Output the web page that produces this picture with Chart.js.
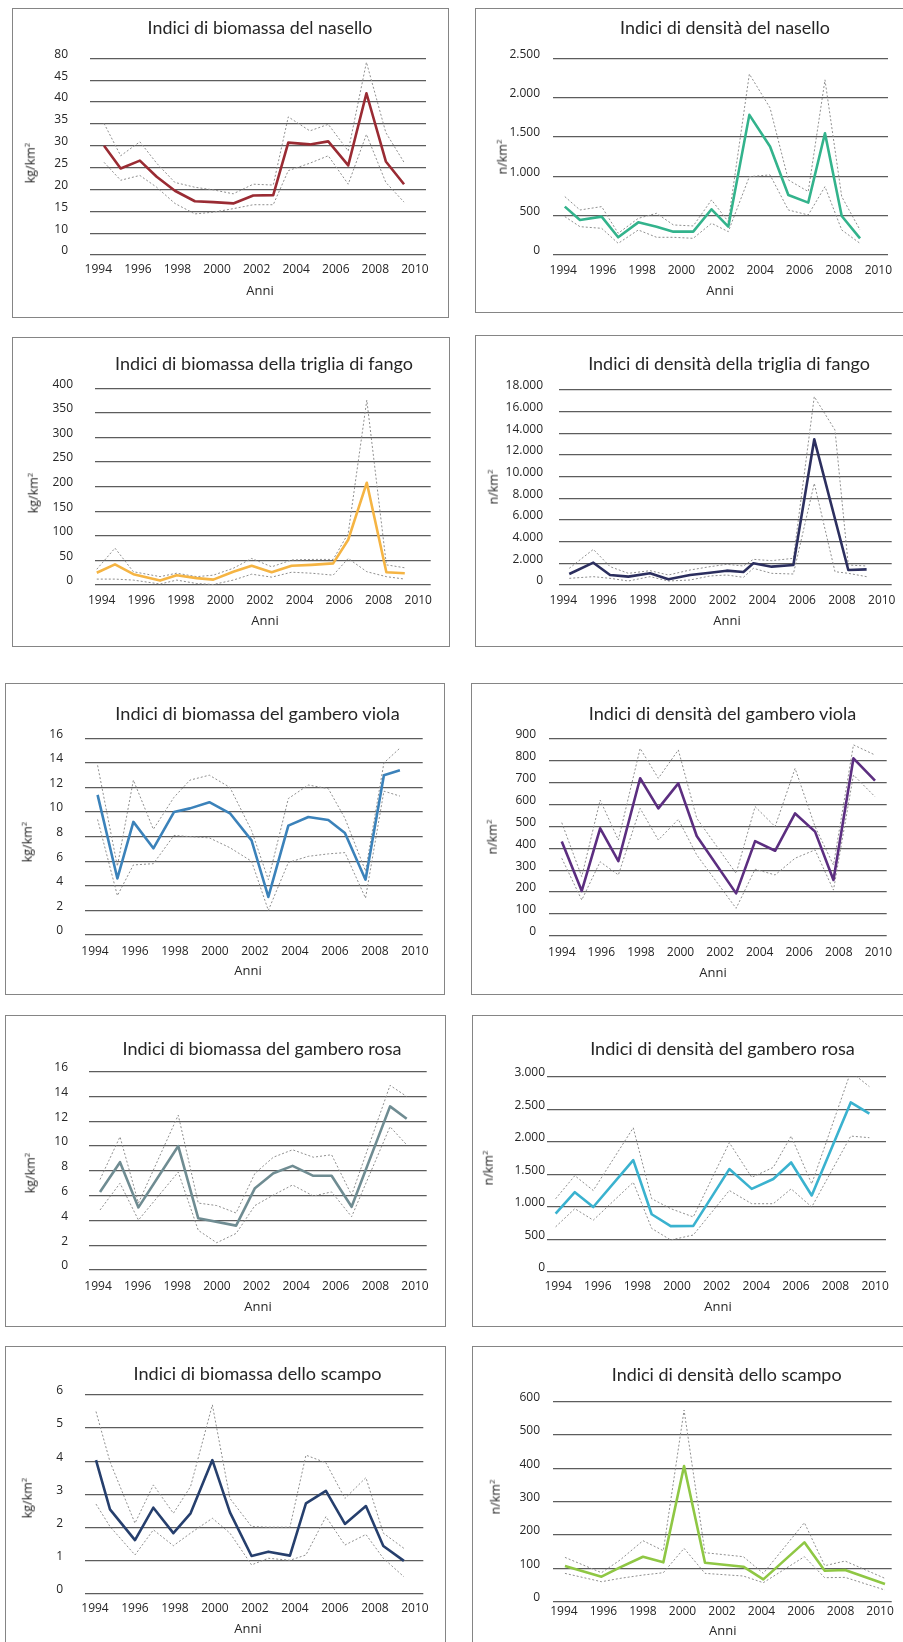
<!DOCTYPE html>
<html>
<head>
<meta charset="utf-8">
<script src="https://cdn.jsdelivr.net/npm/chart.js@4.4.1/dist/chart.umd.min.js"></script>
<style>
  html, body { margin: 0; padding: 0; background: #fff; }
  body { width: 903px; height: 1642px; position: relative; overflow: hidden; font-family: "Open Sans", sans-serif; }
  .panel { position: absolute; }
  .frame { position: absolute; left: 0; top: 0; right: 0; bottom: 0; border: 1px solid #858585; box-sizing: border-box; }
  .panel canvas { position: absolute; left: 0; top: 0; }
  .txt { position: absolute; white-space: nowrap; color: #262626; line-height: 1; }
  .title { transform: translate(-50%, -50%); font-family: Lato, "Open Sans", sans-serif; }
  .xname { transform: translate(-50%, -50%); font-size: 13px; }
  .yname { transform: translate(-50%, -50%) rotate(-90deg); font-size: 12.5px; }
  .yname sup { font-size: 8px; vertical-align: 5px; }
</style>
</head>
<body>
<script>
// Year labels shared by every x axis
const yearTicks = [1994, 1996, 1998, 2000, 2002, 2004, 2006, 2008, 2010];

// Nasello - biomassa (kg/km2)
const naselloBioYears = [1994.29, 1995.13, 1996.10, 1996.95, 1997.87, 1998.88, 1999.81, 2000.82, 2001.83, 2002.84, 2003.60, 2004.69, 2005.62, 2006.63, 2007.55, 2008.53, 2009.45];
const naselloBioMean  = [30.0, 24.8, 26.6, 22.9, 19.7, 17.3, 17.1, 16.8, 18.6, 18.7, 30.7, 30.3, 31.0, 25.5, 42.0, 26.4, 21.2];
const naselloBioUpper = [35.1, 27.7, 30.9, 26.0, 21.6, 20.5, 19.9, 19.0, 21.2, 21.0, 36.6, 33.4, 34.9, 28.8, 49.1, 33.0, 26.2];
const naselloBioLower = [26.2, 22.1, 23.2, 20.5, 16.8, 14.4, 14.8, 15.6, 16.5, 16.5, 24.3, 26.0, 27.7, 21.2, 32.6, 21.6, 17.1];
const naselloBioTicks = [5, 10, 15, 20, 25, 30, 35, 40, 45, 50];
const naselloBioTickLabels = ['0', '10', '15', '20', '25', '30', '35', '40', '45', '80'];

// Nasello - densità (n/km2)
const naselloDenYears = [1994.08, 1994.85, 1995.95, 1996.79, 1997.81, 1998.74, 1999.59, 2000.60, 2001.53, 2002.38, 2003.45, 2004.50, 2005.43, 2006.44, 2007.29, 2008.14, 2009.07];
const naselloDenMean  = [615, 445, 488, 225, 415, 360, 297, 297, 581, 360, 1781, 1378, 763, 666, 1548, 496, 212];
const naselloDenUpper = [742, 572, 615, 276, 466, 530, 382, 369, 700, 424, 2300, 1870, 954, 806, 2226, 742, 318];
const naselloDenLower = [488, 360, 339, 148, 318, 225, 225, 212, 403, 297, 996, 1018, 572, 509, 869, 318, 148];
const naselloDenTicks = [0, 500, 1000, 1500, 2000, 2500];

// Triglia di fango - biomassa (kg/km2)
const trigliaBioYears = [1993.75, 1994.67, 1995.60, 1996.95, 1997.79, 1998.80, 1999.64, 2000.65, 2001.58, 2002.59, 2003.60, 2004.60, 2005.70, 2006.46, 2007.40, 2008.39, 2009.32];
const trigliaBioMean  = [25, 42, 22, 9, 20, 14, 11, 27, 39, 26, 39, 41, 44, 92, 208, 26, 24];
const trigliaBioUpper = [32, 75, 27, 17, 24, 17, 20, 34, 54, 37, 51, 52, 52, 105, 376, 41, 35];
const trigliaBioLower = [12, 12, 10, 2, 10, 3, 1, 10, 22, 16, 26, 24, 20, 54, 27, 17, 12];
const trigliaBioTicks = [0, 50, 100, 150, 200, 250, 300, 350, 400];

// Triglia di fango - densità (n/km2)
const trigliaDenYears = [1994.30, 1995.51, 1996.35, 1997.27, 1998.36, 1999.28, 2000.37, 2001.37, 2002.21, 2003.05, 2003.55, 2004.47, 2005.56, 2006.61, 2007.65, 2008.32, 2009.24];
const trigliaDenMean  = [1015, 2060, 923, 770, 1077, 523, 923, 1138, 1323, 1200, 2000, 1692, 1846, 13446, null, 1385, 1446];
const trigliaDenUpper = [1538, 3290, 1692, 1077, 1323, 923, 1385, 1692, 1908, 1754, 2369, 2246, 2462, 17385, 14308, 1846, 1754];
const trigliaDenLower = [615, 770, 615, 370, 770, 370, 462, 831, 923, 708, 1538, 1077, 1015, 9385, 1231, 1077, 770];
const trigliaDenTicks = [0, 2000, 4000, 6000, 8000, 10000, 12000, 14000, 16000, 18000];

// Gambero viola - biomassa (kg/km2)
const violaBioYears = [1994.13, 1995.12, 1995.92, 1996.92, 1997.95, 1998.75, 1999.72, 2000.75, 2001.83, 2002.67, 2003.67, 2004.67, 2005.67, 2006.50, 2007.53, 2008.45, 2009.25];
const violaBioMean  = [11.4, 4.6, 9.2, 7.05, 10.0, 10.3, 10.8, 9.9, 7.7, 3.1, 8.9, 9.6, 9.35, 8.3, 4.5, 13.0, 13.4];
const violaBioUpper = [13.8, 5.6, 12.6, 8.6, 11.2, 12.6, 13.0, 12.0, 8.5, 4.5, 11.1, 12.2, 11.9, 9.5, 5.2, 14.0, 15.2];
const violaBioLower = [9.4, 3.2, 5.7, 5.8, 8.1, 8.0, 7.9, 7.1, 6.0, 2.0, 5.9, 6.4, 6.6, 6.7, 3.0, 11.7, 11.3];
const violaBioTicks = [0, 2, 4, 6, 8, 10, 12, 14, 16];

// Gambero viola - densità (n/km2)
const violaDenYears = [1994.00, 1995.01, 1995.94, 1996.86, 1997.96, 1998.88, 1999.89, 2000.82, 2001.83, 2002.81, 2003.77, 2004.78, 2005.79, 2006.80, 2007.73, 2008.74, 2009.83];
const violaDenMean  = [430, 205, 490, 341, 718, 581, 695, 455, null, 194, 432, 388, 558, 475, 255, 809, 707];
const violaDenUpper = [516, 270, 619, 437, 854, 718, 847, 536, null, 285, 589, 498, 763, 498, 323, 870, 824];
const violaDenLower = [354, 164, 338, 278, 581, 437, 531, 369, null, 126, 304, 278, 354, 392, 209, 733, 634];
const violaDenTicks = [0, 100, 200, 300, 400, 500, 600, 700, 800, 900];

// Gambero rosa - biomassa (kg/km2)
const rosaBioYears = [1994.10, 1995.11, 1996.04, 1997.05, 1998.05, 1999.06, 1999.99, 2000.97, 2001.92, 2002.85, 2003.82, 2004.87, 2005.79, 2006.80, 2007.81, 2008.74, 2009.58];
const rosaBioMean  = [6.3, 8.7, 5.05, null, 10.0, 4.17, null, 3.58, 6.6, 7.8, 8.4, 7.6, 7.6, 5.1, null, 13.2, 12.2];
const rosaBioUpper = [7.3, 10.75, 5.4, null, 12.5, 5.4, 5.2, 4.6, 7.8, 9.1, 9.7, 9.1, 9.3, 6.05, null, 14.9, 14.0];
const rosaBioLower = [4.84, 7.0, 4.03, null, 7.9, 3.2, 2.2, 2.95, 5.2, 6.05, 6.86, 5.97, 6.3, 4.3, null, 11.56, 10.1];
const rosaBioTicks = [0, 2, 4, 6, 8, 10, 12, 14, 16];

// Gambero rosa - densità (n/km2)
const rosaDenYears = [1993.87, 1994.84, 1995.77, 1996.78, 1997.79, 1998.72, 1999.68, 2000.82, 2001.75, 2002.64, 2003.77, 2004.86, 2005.76, 2006.80, 2007.81, 2008.77, 2009.71];
const rosaDenMean  = [897, 1226, 998, null, 1718, 887, 704, 709, null, 1581, 1277, 1429, 1682, 1175, null, 2605, 2433];
const rosaDenUpper = [1125, 1480, 1252, null, 2215, 1125, 973, 846, null, 1987, 1454, 1607, 2088, 1353, null, 3076, 2848];
const rosaDenLower = [694, 973, 796, null, 1378, 669, 492, 568, null, 1252, 1049, 1049, 1277, 998, null, 2088, 2063];
const rosaDenTicks = [0, 500, 1000, 1500, 2000, 2500, 3000];

// Scampo - biomassa (kg/km2)
const scampoBioYears = [1994.05, 1994.75, 1996.00, 1996.92, 1997.92, 1998.78, 1999.87, 2000.75, 2001.83, 2002.67, 2003.75, 2004.55, 2005.55, 2006.50, 2007.55, 2008.42, 2009.45];
const scampoBioMean  = [4.03, 2.54, 1.61, 2.59, 1.82, 2.42, 4.03, 2.45, 1.13, 1.26, 1.14, 2.72, 3.1, 2.1, 2.64, 1.43, 0.98];
const scampoBioUpper = [5.5, 3.98, 2.12, 3.28, 2.42, 3.23, 5.7, 2.87, 2.02, 2.0, 2.0, 4.18, 3.95, 2.87, 3.5, 1.82, 1.36];
const scampoBioLower = [2.7, 2.02, 1.16, 1.92, 1.44, 1.82, 2.27, 1.82, 0.86, 1.06, 1.0, 1.16, 2.32, 1.46, 1.78, 1.06, 0.5];
const scampoBioTicks = [0, 1, 2, 3, 4, 5, 6];

// Scampo - densità (n/km2)
const scampoDenYears = [1994.05, 1994.98, 1995.90, 1996.84, 1998.00, 1999.03, 2000.08, 2001.14, 2002.07, 2003.08, 2004.09, 2005.10, 2006.17, 2007.20, 2008.23, 2009.24, 2010.25];
const scampoDenMean  = [107, null, 75, 103, 135, 118, 407, 117, null, 105, 67, null, 178, 93, 95, null, 53];
const scampoDenUpper = [133, null, 87, 125, 183, 153, 575, 147, null, 135, 85, null, 237, 108, 122, null, 70];
const scampoDenLower = [85, null, 60, 70, 80, 87, 160, 85, null, 77, 57, null, 135, 72, 73, null, 35];
const scampoDenTicks = [0, 100, 200, 300, 400, 500, 600];

// Page layout of the ten panels (page pixels)
const panels = [
  { box: [12, 8, 449, 318], grid: { l: 90, r: 426, t: 58.3, b: 255 }, xRange: [1993.58, 2010.56],
    yLabelRight: 68, xLabelY: 269, title: 'Indici di biomassa del nasello', titleAt: [260, 28], titleWidth: 225,
    xNameAt: [260, 290], yUnit: 'kg/km', yNameAt: [30, 163], color: '#9a2b33',
    years: naselloBioYears, mean: naselloBioMean, upper: naselloBioUpper, lower: naselloBioLower,
    ticks: naselloBioTicks, tickLabels: naselloBioTickLabels },
  { box: [475, 8, 905, 313], grid: { l: 553, r: 888, t: 58.3, b: 255 }, xRange: [1993.48, 2010.49],
    yLabelRight: 540, xLabelY: 270, title: 'Indici di densità del nasello', titleAt: [725, 28], titleWidth: 210,
    xNameAt: [720, 290], yUnit: 'n/km', yNameAt: [502, 157], color: '#33b38c',
    years: naselloDenYears, mean: naselloDenMean, upper: naselloDenUpper, lower: naselloDenLower,
    ticks: naselloDenTicks },
  { box: [12, 337, 450, 647], grid: { l: 95, r: 430.7, t: 388.3, b: 585 }, xRange: [1993.66, 2010.63],
    yLabelRight: 73, xLabelY: 600, title: 'Indici di biomassa della triglia di fango', titleAt: [264, 363], titleWidth: 298,
    xNameAt: [265, 620], yUnit: 'kg/km', yNameAt: [33, 493], color: '#f5b443',
    years: trigliaBioYears, mean: trigliaBioMean, upper: trigliaBioUpper, lower: trigliaBioLower,
    ticks: trigliaBioTicks },
  { box: [475, 335, 905, 647], grid: { l: 559.3, r: 891.7, t: 390, b: 585 }, xRange: [1993.8, 2010.5],
    yLabelRight: 543, xLabelY: 600, title: 'Indici di densità della triglia di fango', titleAt: [729, 363], titleWidth: 282,
    xNameAt: [727, 620], yUnit: 'n/km', yNameAt: [493, 487], color: '#2c2f5f',
    years: trigliaDenYears, mean: trigliaDenMean, upper: trigliaDenUpper, lower: trigliaDenLower,
    ticks: trigliaDenTicks },
  { box: [5, 683, 445, 995], grid: { l: 85, r: 422.7, t: 738.3, b: 935 }, xRange: [1993.5, 2010.39],
    yLabelRight: 63, xLabelY: 951.7, title: 'Indici di biomassa del gambero viola', titleAt: [257.5, 713], titleWidth: 285,
    xNameAt: [248, 970], yUnit: 'kg/km', yNameAt: [27, 842], color: '#3b82ba',
    years: violaBioYears, mean: violaBioMean, upper: violaBioUpper, lower: violaBioLower,
    ticks: violaBioTicks },
  { box: [471, 683, 905, 995], grid: { l: 549.3, r: 886.7, t: 738.3, b: 936 }, xRange: [1993.37, 2010.42],
    yLabelRight: 536, xLabelY: 952.7, title: 'Indici di densità del gambero viola', titleAt: [722.5, 713], titleWidth: 268,
    xNameAt: [713, 971.7], yUnit: 'n/km', yNameAt: [492, 837], color: '#5c2e80',
    years: violaDenYears, mean: violaDenMean, upper: violaDenUpper, lower: violaDenLower,
    ticks: violaDenTicks },
  { box: [5, 1015, 446, 1327], grid: { l: 89.3, r: 426.7, t: 1071.7, b: 1270 }, xRange: [1993.56, 2010.59],
    yLabelRight: 68, xLabelY: 1286, title: 'Indici di biomassa del gambero rosa', titleAt: [262, 1047.7], titleWidth: 279,
    xNameAt: [258, 1306], yUnit: 'kg/km', yNameAt: [30, 1173], color: '#6f8c92',
    years: rosaBioYears, mean: rosaBioMean, upper: rosaBioUpper, lower: rosaBioLower,
    ticks: rosaBioTicks },
  { box: [472, 1015, 905, 1327], grid: { l: 547.3, r: 886, t: 1076.7, b: 1272 }, xRange: [1993.45, 2010.55],
    yLabelRight: 545, xLabelY: 1286, title: 'Indici di densità del gambero rosa', titleAt: [722.5, 1047.7], titleWidth: 265,
    xNameAt: [718, 1306], yUnit: 'n/km', yNameAt: [488, 1168], color: '#3ab2cf',
    years: rosaDenYears, mean: rosaDenMean, upper: rosaDenUpper, lower: rosaDenLower,
    ticks: rosaDenTicks },
  { box: [5, 1346, 446, 1660], grid: { l: 85, r: 423.3, t: 1395, b: 1593.3 }, xRange: [1993.5, 2010.42],
    yLabelRight: 63, xLabelY: 1608.3, title: 'Indici di biomassa dello scampo', titleAt: [257.5, 1372.7], titleWidth: 248,
    xNameAt: [248, 1628.3], yUnit: 'kg/km', yNameAt: [27, 1498], color: '#263f6d',
    years: scampoBioYears, mean: scampoBioMean, upper: scampoBioUpper, lower: scampoBioLower,
    ticks: scampoBioTicks },
  { box: [472, 1346, 905, 1660], grid: { l: 552.7, r: 891.7, t: 1401.7, b: 1601.7 }, xRange: [1993.43, 2010.59],
    yLabelRight: 540, xLabelY: 1611.7, title: 'Indici di densità dello scampo', titleAt: [726.7, 1375], titleWidth: 230,
    xNameAt: [722.7, 1630], yUnit: 'n/km', yNameAt: [495, 1496.7], color: '#8fc744',
    years: scampoDenYears, mean: scampoDenMean, upper: scampoDenUpper, lower: scampoDenLower,
    ticks: scampoDenTicks }
];

const FONT = '"Open Sans", sans-serif';
const TITLE_FONT = 'Lato, "Open Sans", sans-serif';
Chart.defaults.font.family = FONT;

// Thousands separator in Italian style: 2500 -> "2.500"
const itNum = v => String(v).replace(/\B(?=(\d{3})+(?!\d))/g, '.');

const measureCtx = document.createElement('canvas').getContext('2d');
function fitFontSize(text, width) {
  measureCtx.font = '20px ' + TITLE_FONT;
  return 20 * width / measureCtx.measureText(text).width;
}

function addText(cls, html, x, y, size) {
  const el = document.createElement('div');
  el.className = 'txt ' + cls;
  el.innerHTML = html;
  el.style.left = x + 'px';
  el.style.top = y + 'px';
  if (size) el.style.fontSize = size + 'px';
  document.body.appendChild(el);
  return el;
}

const toPoints = (xs, ys) => xs.map((x, i) => ({ x: x, y: ys[i] }));

function drawPanel(p) {
  const [x0, y0, x1, y1] = p.box;
  const w = x1 - x0, h = y1 - y0;
  const wrap = document.createElement('div');
  wrap.className = 'panel';
  Object.assign(wrap.style, { left: x0 + 'px', top: y0 + 'px', width: w + 'px', height: h + 'px' });
  const frame = document.createElement('div');
  frame.className = 'frame';
  wrap.appendChild(frame);
  const cv = document.createElement('canvas');
  cv.width = w; cv.height = h;
  cv.style.width = w + 'px'; cv.style.height = h + 'px';
  wrap.appendChild(cv);
  document.body.appendChild(wrap);

  const dashed = {
    borderColor: '#8e8e8e', borderWidth: 1, borderDash: [2, 2],
    pointRadius: 0, spanGaps: true, tension: 0, fill: false
  };

  new Chart(cv, {
    type: 'line',
    data: {
      datasets: [
        { data: toPoints(p.years, p.mean), borderColor: p.color, borderWidth: 2.6,
          borderJoinStyle: 'round', pointRadius: 0, spanGaps: true, tension: 0, fill: false, order: 0 },
        Object.assign({ data: toPoints(p.years, p.upper), order: 1 }, dashed),
        Object.assign({ data: toPoints(p.years, p.lower), order: 2 }, dashed)
      ]
    },
    options: {
      responsive: false,
      animation: false,
      devicePixelRatio: 1,
      layout: { padding: { left: 0, top: p.grid.t - y0, right: x1 - p.grid.r, bottom: 0 } },
      plugins: { legend: { display: false }, tooltip: { enabled: false }, title: { display: false } },
      scales: {
        x: {
          type: 'linear', min: p.xRange[0], max: p.xRange[1],
          afterFit: s => { s.height = y1 - p.grid.b; },
          afterBuildTicks: s => { s.ticks = yearTicks.map(v => ({ value: v })); },
          grid: { display: false, drawTicks: false },
          border: { display: false },
          ticks: {
            autoSkip: false, maxRotation: 0, minRotation: 0,
            padding: p.xLabelY - p.grid.b - 7,
            color: '#262626', font: { size: 12 },
            callback: v => String(v)
          }
        },
        y: {
          type: 'linear', min: p.ticks[0], max: p.ticks[p.ticks.length - 1],
          afterFit: s => { s.width = p.grid.l - x0; },
          afterBuildTicks: s => { s.ticks = p.ticks.map(v => ({ value: v })); },
          grid: { color: '#5c5c5c', lineWidth: 1.2, drawTicks: false },
          border: { display: false },
          ticks: {
            padding: p.grid.l - p.yLabelRight,
            labelOffset: -4,
            color: '#262626', font: { size: 12 },
            callback: (v, i) => p.tickLabels ? p.tickLabels[i] : itNum(v)
          }
        }
      }
    }
  });

  addText('title', p.title, p.titleAt[0], p.titleAt[1], fitFontSize(p.title, p.titleWidth));
  addText('xname', 'Anni', p.xNameAt[0], p.xNameAt[1]);
  addText('yname', p.yUnit + '<sup>2</sup>', p.yNameAt[0], p.yNameAt[1]);
}

panels.forEach(drawPanel);
</script>
</body>
</html>
